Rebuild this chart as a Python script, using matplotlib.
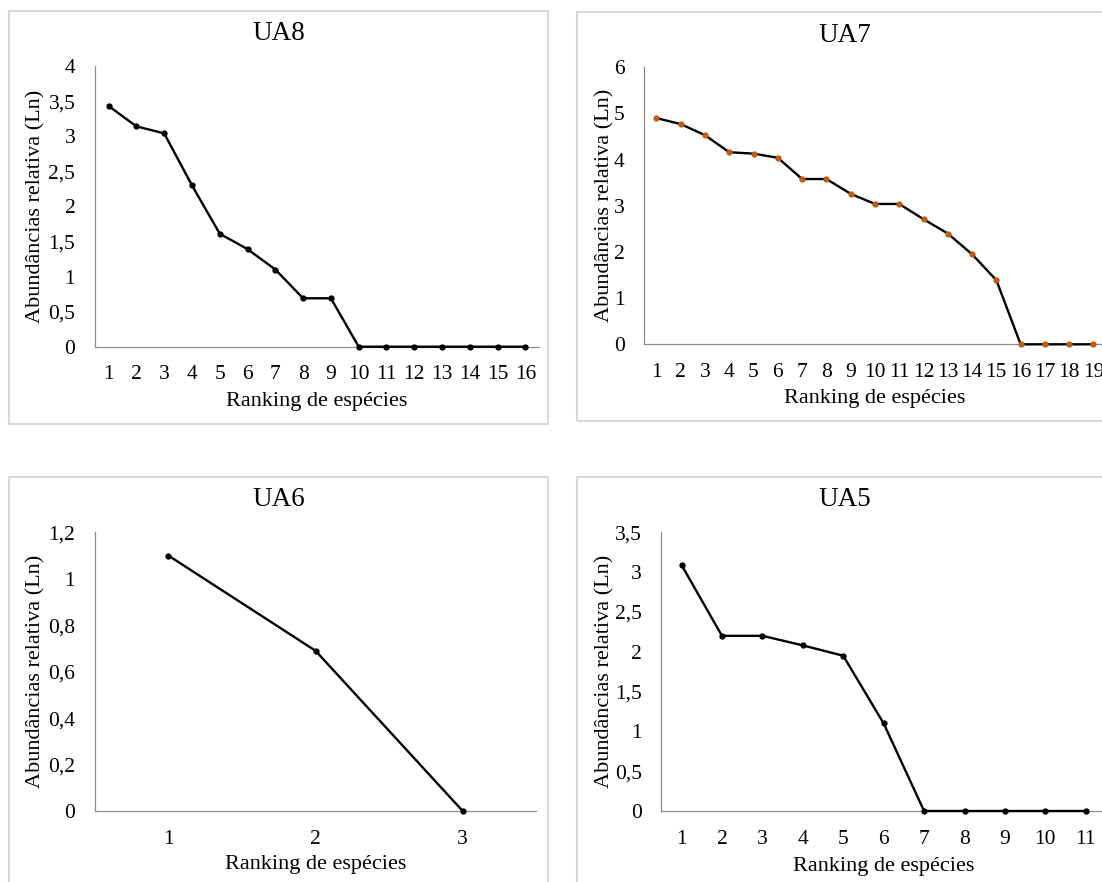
import matplotlib
matplotlib.use('Agg')
import matplotlib.pyplot as plt
import numpy as np
from matplotlib.patches import Rectangle
from matplotlib.ticker import FuncFormatter, MultipleLocator

plt.rcParams['font.family'] = ['Liberation Serif', 'DejaVu Serif']

# Relative abundance (Ln) per species rank
ua8_values = [3.43, 3.14, 3.04, 2.30, 1.61, 1.39, 1.10, 0.69, 0.69, 0, 0, 0, 0, 0, 0, 0]
ua7_values = [4.90, 4.77, 4.53, 4.16, 4.13, 4.04, 3.58, 3.58, 3.26, 3.04, 3.04,
              2.71, 2.40, 1.95, 1.39, 0, 0, 0, 0]
ua6_values = [1.10, 0.69, 0]
ua5_values = [3.09, 2.20, 2.20, 2.08, 1.95, 1.10, 0, 0, 0, 0, 0]

titles = ['UA8', 'UA7', 'UA6', 'UA5']
y_max = [4, 6, 1.2, 3.5]
y_step = [0.5, 1, 0.2, 0.5]
x_label = 'Ranking de espécies'
y_label = 'Abundâncias relativa (Ln)'

W, H = 1102, 882

# pixel layout: axes (left, right, top, bottom), frame (left, top, right, bottom),
# title centre, x label centre y, y label centre x
panels = [
    dict(ax=(94.7, 539.3, 66.0, 346.7), frame=(9, 11, 548.3, 424), title=(278.6, 33.5),
         xlab_y=401.5, ylab_x=34),
    dict(ax=(644.3, 1105.6, 67.3, 344.3), frame=(576.7, 12.3, 1200, 420.7), title=(845, 35),
         xlab_y=399, ylab_x=603),
    dict(ax=(94.7, 536.3, 532.3, 811.0), frame=(9, 477.3, 548.3, 1000), title=(278.6, 500),
         xlab_y=865, ylab_x=34),
    dict(ax=(661.3, 1106.0, 532.3, 811.0), frame=(576.6, 476.7, 1200, 1000), title=(845, 500),
         xlab_y=866, ylab_x=603),
]
series = [ua8_values, ua7_values, ua6_values, ua5_values]
marker_colors = ['black', '#C55A11', 'black', 'black']

fig = plt.figure(figsize=(W / 100, H / 100), dpi=100)


def comma_fmt(v, pos):
    return ('%g' % round(v, 6)).replace('.', ',')


for p, vals, title, ymax, ystep, mcol in zip(panels, series, titles, y_max, y_step, marker_colors):
    fl, ft, fr, fb = p['frame']
    fig.patches.append(Rectangle((fl / W, 1 - fb / H), (fr - fl) / W, (fb - ft) / H,
                                 transform=fig.transFigure, fill=False,
                                 edgecolor='#d9d9d9', linewidth=1.5))
    l, r, t, b = p['ax']
    ax = fig.add_axes([l / W, 1 - b / H, (r - l) / W, (b - t) / H])
    ranks = np.arange(1, len(vals) + 1)
    ax.plot(ranks, vals, color='black', linewidth=1.7, marker='o', markersize=3.5,
            markerfacecolor=mcol, markeredgecolor=mcol, clip_on=False, zorder=3)
    ax.set_xlim(0.5, len(vals) + 0.5)
    ax.set_ylim(0, ymax)
    ax.set_xticks(ranks)
    ax.yaxis.set_major_locator(MultipleLocator(ystep))
    ax.yaxis.set_major_formatter(FuncFormatter(comma_fmt))
    for side in ['top', 'right']:
        ax.spines[side].set_visible(False)
    for side in ['left', 'bottom']:
        ax.spines[side].set_color('#8c8c8c')
        ax.spines[side].set_linewidth(0.9)
    ax.tick_params(axis='both', length=0, labelsize=15.5, colors='black')
    ax.tick_params(axis='y', pad=14)
    ax.tick_params(axis='x', pad=13.5)
    ax.set_xlabel(x_label, fontsize=16, va='center')
    ax.set_ylabel(y_label, fontsize=16, va='center')
    ax_w, ax_h = r - l, b - t
    ax.yaxis.set_label_coords((p['ylab_x'] + 2 - l) / ax_w, 0.5)
    ax.xaxis.set_label_coords(0.5, -(p['xlab_y'] - b) / ax_h)
    fig.text(p['title'][0] / W, 1 - p['title'][1] / H, title, fontsize=19.5,
             ha='center', va='center')

fig.savefig('out.png', dpi=100)
